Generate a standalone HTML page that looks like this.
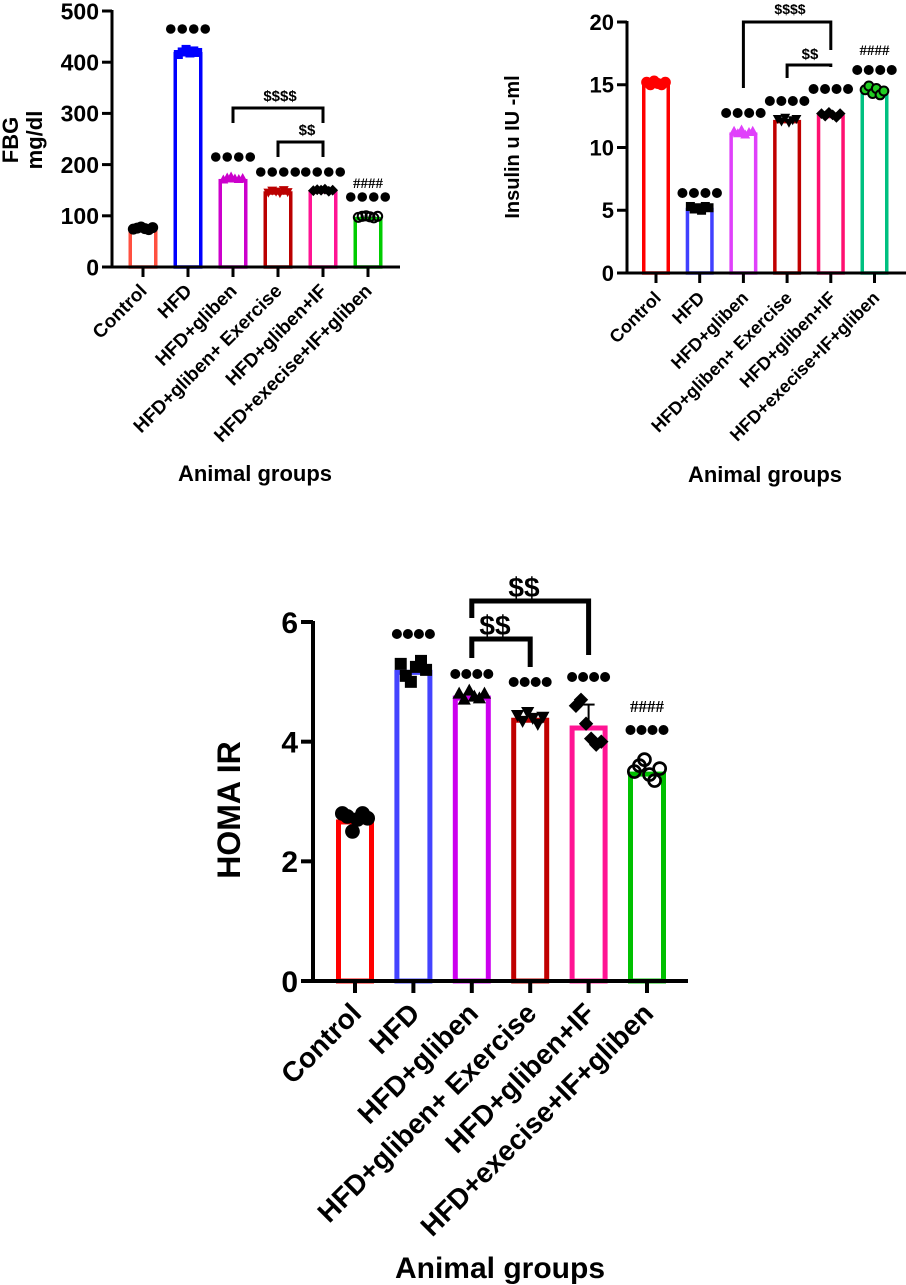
<!DOCTYPE html>
<html><head><meta charset="utf-8"><style>
html,body{margin:0;padding:0;background:#fff;}
svg{display:block;font-family:"Liberation Sans",Arial,sans-serif;font-weight:bold;}
</style></head><body>
<svg id="fig" width="906" height="1285" viewBox="0 0 906 1285" xmlns="http://www.w3.org/2000/svg"></svg>
<script>
const categories = ["Control","HFD","HFD+gliben","HFD+gliben+ Exercise","HFD+gliben+IF","HFD+execise+IF+gliben"];
// Chart A: FBG
const fbgMeans = [75, 420, 172, 148, 150, 98];
const fbgPoints = [[74,76,78,75,73,77],[415,420,425,418,422,419],[170,174,176,172,171,173],[146,150,148,145,151,147],[149,151,150,152,148,150],[97,99,100,98,96,99]];
const fbgTicks = [0,100,200,300,400,500];
// Chart B: Insulin
const insMeans = [15.1, 5.2, 11.2, 12.2, 12.6, 14.5];
const insPoints = [[15.2,15.0,15.3,15.1,15.0,15.2],[5.3,5.1,5.2,5.0,5.3,5.2],[11.3,11.1,11.4,11.0,11.2,11.3],[12.3,12.1,12.4,12.0,12.2,12.3],[12.7,12.5,12.8,12.6,12.4,12.7],[14.6,14.9,14.3,14.7,14.2,14.5]];
const insTicks = [0,5,10,15,20];
// Chart C: HOMA IR
const homaMeans = [2.7, 5.2, 4.77, 4.4, 4.27, 3.5];
const homaPoints = [[2.8,2.75,2.5,2.7,2.8,2.72],[5.3,5.1,5.0,5.25,5.35,5.2],[4.8,4.7,4.85,4.75,4.72,4.8],[4.45,4.35,4.5,4.4,4.3,4.42],[4.6,4.7,4.3,4.05,3.95,4.0],[3.5,3.6,3.7,3.45,3.35,3.55]];
const homaTicks = [0,2,4,6];

const NS="http://www.w3.org/2000/svg";
const svg=document.getElementById('fig');
function mk(tag,attrs,parent){const e=document.createElementNS(NS,tag);for(const k in attrs)e.setAttribute(k,attrs[k]);(parent||svg).appendChild(e);return e;}

function marker(g,shape,x,y,s,fill,stroke){
  let e;
  if(shape==='circle'){e=mk('circle',{cx:x,cy:y,r:s,fill:fill,stroke:stroke,'stroke-width':s*0.45},g);}
  else if(shape==='square'){e=mk('rect',{x:x-s,y:y-s,width:2*s,height:2*s,fill:fill},g);}
  else if(shape==='tri'){e=mk('polygon',{points:`${x},${y-s*1.2} ${x-s*1.1},${y+s*0.8} ${x+s*1.1},${y+s*0.8}`,fill:fill},g);}
  else if(shape==='dtri'){e=mk('polygon',{points:`${x},${y+s*1.2} ${x-s*1.1},${y-s*0.8} ${x+s*1.1},${y-s*0.8}`,fill:fill},g);}
  else {e=mk('polygon',{points:`${x},${y-s*1.2} ${x+s*1.2},${y} ${x},${y+s*1.2} ${x-s*1.2},${y}`,fill:fill},g);}
  
  
}

function dots(g,cx,y,r,gap){
  for(let i=0;i<4;i++){const c=mk('circle',{cx:cx+(i-1.5)*gap,cy:y,r:r,fill:'#000'},g);
    
    }
}

function chart(cfg,means,points,ticks,name){
  const g=mk('g',{});
  
  
  const ymax=ticks[ticks.length-1];
  const Y=v=>cfg.y0-(cfg.y0-cfg.ytop)*v/ymax;
  const X=i=>cfg.x1+i*cfg.step;
  means.forEach((m,i)=>{
    const sw=cfg.sw;
    const r=mk('rect',{x:X(i)-cfg.bw/2+sw/2,y:Y(m)+sw/2,width:cfg.bw-sw,height:cfg.y0-Y(m)-sw/2,fill:'#fff',stroke:cfg.colors[i],'stroke-width':sw},g);
    
    
  });
  points.forEach((pts,i)=>{
    const n=pts.length;
    pts.forEach((v,j)=>{
      const x=X(i)+(j-(n-1)/2)*cfg.bw/(n+1.5);
      marker(g,cfg.shapes[i],x,Y(v),cfg.ms,cfg.pfill[i],cfg.pstroke[i]);
    });
  });
  const ax=mk('line',{x1:cfg.ax,y1:cfg.ytop-1,x2:cfg.ax,y2:cfg.y0,stroke:'#000','stroke-width':cfg.lw},g);
  
  
  const bx=mk('line',{x1:cfg.ax-cfg.tl,y1:cfg.y0,x2:cfg.xend,y2:cfg.y0,stroke:'#000','stroke-width':cfg.lw},g);
  
  
  ticks.forEach(t=>{
    mk('line',{x1:cfg.ax-cfg.tl,y1:Y(t),x2:cfg.ax,y2:Y(t),stroke:'#000','stroke-width':cfg.lw},g);
    const tx=mk('text',{x:cfg.ax-cfg.tl-3,y:Y(t)+cfg.tf*0.36,'text-anchor':'end','font-size':cfg.tf},g);
    tx.textContent=t;
    
    
  });
  categories.forEach((c,i)=>{
    mk('line',{x1:X(i),y1:cfg.y0,x2:X(i),y2:cfg.y0+cfg.tl,stroke:'#000','stroke-width':cfg.lw},g);
    const lx=X(i)+cfg.lo[0], ly=cfg.y0+cfg.lo[1];
    const tx=mk('text',{x:lx,y:ly,'text-anchor':'end','font-size':cfg.lf,transform:`rotate(-45 ${lx} ${ly})`},g);
    tx.textContent=c;
    
    
  });
  cfg.stars.forEach(s=>dots(g,X(s[0]),s[1],cfg.dr,cfg.dg));
  cfg.hashes.forEach(h=>{const t=mk('text',{x:X(h[0]),y:h[1],'text-anchor':'middle','font-size':cfg.hf,'font-family':'"Liberation Serif",serif'},g);t.textContent='####';
    
    });
  cfg.brackets.forEach(b=>{
    const p=mk('polyline',{points:`${X(b[0])},${b[3]} ${X(b[0])},${b[2]} ${X(b[1])},${b[2]} ${X(b[1])},${b[4]}`,fill:'none',stroke:'#000','stroke-width':cfg.bkw},g);
    
    
    const t=mk('text',{x:b[6],y:b[2]-b[7],'text-anchor':'middle','font-size':b[8]},g);t.textContent=b[5];
    
    
  });
  if(cfg.err){const e=cfg.err;const x=X(e[0]);
    mk('line',{x1:x,y1:Y(e[1]),x2:x,y2:Y(e[2]),stroke:'#000','stroke-width':2},g);
    mk('line',{x1:x-6,y1:Y(e[2]),x2:x+6,y2:Y(e[2]),stroke:'#000','stroke-width':2},g);}
  return g;
}

chart({ax:112,y0:267,ytop:11,xend:400,x1:143,step:45,bw:29,sw:3.5,lw:3,tl:10,tf:23,lf:19,lo:[5,25],ms:4.5,
  colors:['#ff5040','#0000ff','#cc00cc','#bb0000','#ff1493','#00cc00'],
  shapes:['circle','square','tri','dtri','diamond','circle'],
  pfill:['#000','#0000ff','#cc00cc','#bb0000','#000','none'],pstroke:['#000','#0000ff','#cc00cc','#bb0000','#000','#000'],
  dr:4.8,dg:11.5,hf:15,
  stars:[[1,29],[2,157],[3,172],[4,172],[5,197]],hashes:[[5,188]],
  brackets:[[2,4,108,123,123,'$$$$',280,7,15],[3,4,142,157,157,'$$',307,7,15]],bkw:3},fbgMeans,fbgPoints,fbgTicks,'fbg-chart');

chart({ax:627,y0:273,ytop:22,xend:906,x1:656,step:43.7,bw:28,sw:3.5,lw:3,tl:10,tf:22,lf:18,lo:[6,26],ms:4.5,
  colors:['#ff0000','#4040ff','#e040fb','#c00000','#ff1070','#00c080'],
  shapes:['circle','square','tri','dtri','diamond','circle'],
  pfill:['#ff0000','#000','#e040fb','#000','#000','#22cc22'],pstroke:['#ff0000','#000','#e040fb','#000','#000','#000'],
  dr:5,dg:11.5,hf:15,
  stars:[[1,193],[2,113],[3,101],[4,89],[5,70]],hashes:[[5,55]],
  brackets:[[2,4,22,88,50,'$$$$',790,8,14],[3,4,65,78,67,'$$',810,6,15]],bkw:3},insMeans,insPoints,insTicks,'insulin-chart');

chart({ax:313,y0:981,ytop:622,xend:688,x1:355,step:58.4,bw:38,sw:5,lw:4,tl:12,tf:30,lf:28,lo:[8,34],ms:6,
  colors:['#ff0000','#4444ff','#cc00ee','#c00000','#ff1493','#00c000'],
  shapes:['circle','square','tri','dtri','diamond','circle'],
  pfill:['#000','#000','#000','#000','#000','none'],pstroke:['#000','#000','#000','#000','#000','#000'],
  dr:5,dg:11,hf:17,err:[4,4.27,4.62],
  stars:[[1,634],[2,674],[3,682],[4,677],[5,730]],hashes:[[5,712]],
  brackets:[[2,3,639,658,667,'$$',495,4,28],[2,4,601,618,655,'$$',524,4,28]],bkw:5},homaMeans,homaPoints,homaTicks,'homa-chart');

function label(txt,x,y,size,rot,name){const t=mk('text',{x:x,y:y,'text-anchor':'middle','font-size':size,transform:rot?`rotate(-90 ${x} ${y})`:''});t.textContent=txt;
  
  }
label('FBG',18,140,22,true,'y-axis-title-fbg');
label('mg/dl',42,140,22,true,'y-axis-title-unit');
label('Insulin u IU -ml',519,147,20,true,'y-axis-title-insulin');
label('HOMA IR',240,810,32,true,'y-axis-title-homa');
label('Animal groups',255,481,22,false,'x-axis-title-fbg');
label('Animal groups',765,482,22,false,'x-axis-title-insulin');
label('Animal groups',500,1278,30,false,'x-axis-title-homa');
</script>
</body></html>
